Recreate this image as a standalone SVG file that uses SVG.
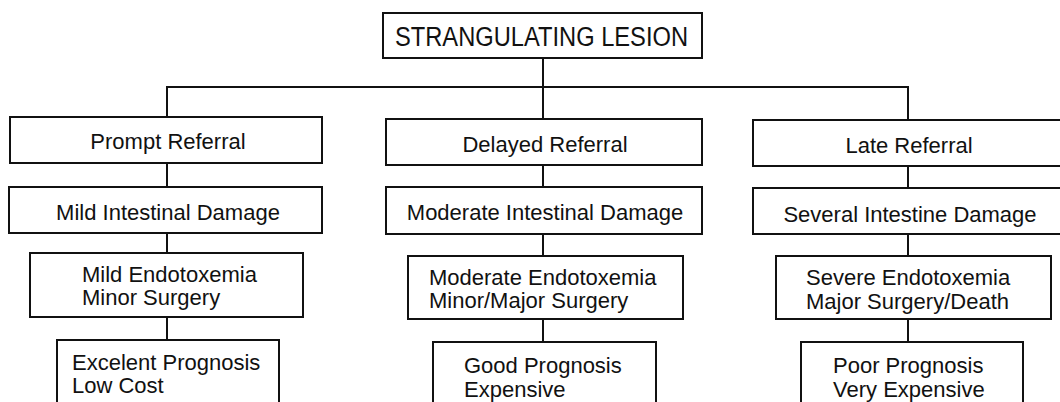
<svg xmlns="http://www.w3.org/2000/svg" width="1060" height="402" viewBox="0 0 1060 402">
<style>
rect{fill:#fff;stroke:#111;stroke-width:2}
.c line{stroke:#111;stroke-width:2}
text{font-family:"Liberation Sans",Arial,sans-serif;font-size:22px;fill:#111}
.m{text-anchor:middle}
</style>
<rect x="0" y="0" width="1060" height="402" style="stroke:none"/>
<g class="c" id="connectors">
<line x1="543" y1="58" x2="543" y2="119"/>
<line x1="166" y1="87" x2="909" y2="87"/>
<line x1="167" y1="86" x2="167" y2="117"/>
<line x1="908" y1="87" x2="908" y2="120"/>
<line x1="167" y1="163" x2="167" y2="187"/>
<line x1="167" y1="233" x2="167" y2="253"/>
<line x1="167" y1="317" x2="167" y2="340"/>
<line x1="543" y1="165" x2="543" y2="187"/>
<line x1="543" y1="234" x2="543" y2="256"/>
<line x1="543" y1="319" x2="543" y2="342"/>
<line x1="908" y1="166" x2="908" y2="188"/>
<line x1="908" y1="234" x2="908" y2="256"/>
<line x1="908" y1="319" x2="908" y2="342"/>
</g>
<g id="root"><rect x="383" y="13" width="319" height="45"/><text x="395" y="46" font-size="27" textLength="293" lengthAdjust="spacingAndGlyphs" style="font-size:27px">STRANGULATING LESION</text></g>
<g id="prompt"><rect x="10" y="117" width="312" height="46"/><text class="m" x="168" y="149">Prompt Referral</text></g>
<g id="delayed"><rect x="386" y="119" width="316" height="46"/><text class="m" x="545" y="152">Delayed Referral</text></g>
<g id="late"><rect x="753" y="120" width="320" height="46"/><text class="m" x="909" y="153">Late Referral</text></g>
<g id="mild-damage"><rect x="9" y="187" width="313" height="46"/><text class="m" x="168" y="220">Mild Intestinal Damage</text></g>
<g id="moderate-damage"><rect x="386" y="187" width="316" height="47"/><text class="m" x="545" y="220">Moderate Intestinal Damage</text></g>
<g id="several-damage"><rect x="753" y="188" width="320" height="46"/><text class="m" x="910" y="222">Several Intestine Damage</text></g>
<g id="mild-endo"><rect x="30" y="253" width="273" height="64"/><text x="82" y="282">Mild Endotoxemia</text><text x="82" y="305">Minor Surgery</text></g>
<g id="moderate-endo"><rect x="408" y="256" width="275" height="63"/><text x="429" y="285">Moderate Endotoxemia</text><text x="429" y="308">Minor/Major Surgery</text></g>
<g id="severe-endo"><rect x="776" y="256" width="275" height="63"/><text x="806" y="285">Severe Endotoxemia</text><text x="806" y="309">Major Surgery/Death</text></g>
<g id="excellent"><rect x="57" y="340" width="222" height="80"/><text x="72" y="370">Excelent Prognosis</text><text x="72" y="393">Low Cost</text></g>
<g id="good"><rect x="433" y="342" width="223" height="80"/><text x="464" y="373">Good Prognosis</text><text x="464" y="397">Expensive</text></g>
<g id="poor"><rect x="801" y="342" width="222" height="80"/><text x="833" y="373">Poor Prognosis</text><text x="833" y="397">Very Expensive</text></g>
</svg>
